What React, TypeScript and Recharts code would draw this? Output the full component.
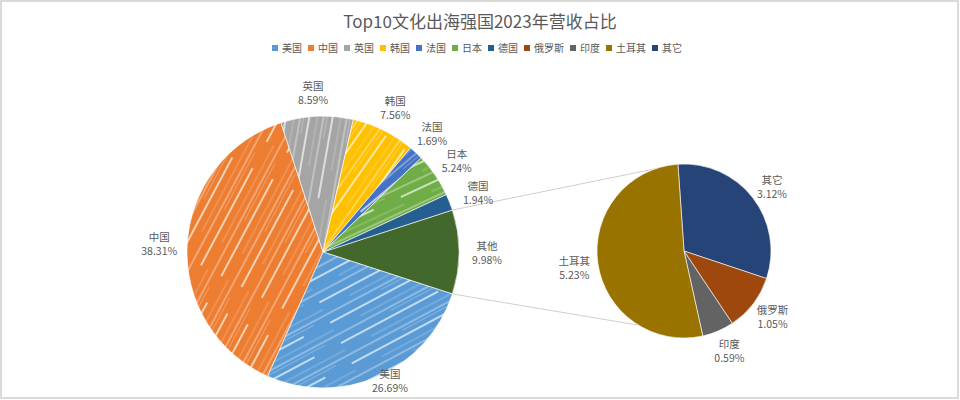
import React from 'react';
import { PieChart, Pie, Cell, Customized } from 'recharts';

// ---- data ----
const mainNames = ['其他', '美国', '中国', '英国', '韩国', '法国', '日本', '德国'];
const mainValues = [9.98, 26.69, 38.31, 8.59, 7.56, 1.69, 5.24, 1.94];
const subNames = ['其它', '俄罗斯', '印度', '土耳其'];
const subValues = [3.12, 1.05, 0.59, 5.23];
const legendNames = ['美国', '中国', '英国', '韩国', '法国', '日本', '德国', '俄罗斯', '印度', '土耳其', '其它'];
const title = 'Top10文化出海强国2023年营收占比';

// ---- styles ----
const COLORS: Record<string, string> = {
  美国: '#5B9BD5',
  中国: '#ED7D31',
  英国: '#A5A5A5',
  韩国: '#FFC000',
  法国: '#4472C4',
  日本: '#70AD47',
  德国: '#255E91',
  其他: '#43682B',
  俄罗斯: '#9E480E',
  印度: '#636363',
  土耳其: '#997300',
  其它: '#264478',
};
const HATCH: Record<string, number> = {
  美国: -28,
  中国: -62,
  英国: -80,
  韩国: -55,
  法国: -40,
  日本: -25,
};
const FONT = "'Noto Sans CJK SC', 'Noto Sans', sans-serif";
const TEXT = '#595959';

const MAIN = { cx: 323, cy: 252, r: 136 };
const SUB = { cx: 684, cy: 251, r: 87 };

const mainLabelOffset = [28, 9, 28, 24, 26, 25, 26, 30];
const mainLabelTweak = [0, 3.5, 0, 1, 0, 0.5, 0, -0.5];
const subLabelOffset = [22, 23, 22, 24];
const subLabelTweak = [-1.6, 1, 1.5, 0.5];

const mainData = mainNames.map((n, i) => ({ name: n, value: mainValues[i] }));
const subData = subNames.map((n, i) => ({ name: n, value: subValues[i] }));
const mainTotal = mainValues.reduce((a, b) => a + b, 0);
const subTotal = subValues.reduce((a, b) => a + b, 0);
const mainStart = ((mainValues[0] / mainTotal) * 360) / 2;
const subStart = 94;
const subBottom =
  subStart - ((subValues.slice(0, 3).reduce((a, b) => a + b, 0)) / subTotal) * 360;

const RAD = Math.PI / 180;

function makeLabel(offsets: number[], tweaks: number[]) {
  return (p: any) => {
    const { cx, cy, midAngle, outerRadius, index, value } = p;
    const name = p.payload?.name ?? p.name;
    const a = (midAngle + tweaks[index]) * RAD;
    const r = outerRadius + offsets[index];
    const x = cx + r * Math.cos(a);
    const y = cy - r * Math.sin(a);
    return (
      <g>
        <text x={x} y={y - 7} textAnchor="middle" dominantBaseline="central" fill={TEXT} fontSize={10.5} fontFamily={FONT}>
          {name}
        </text>
        <text x={x} y={y + 7} textAnchor="middle" dominantBaseline="central" fill={TEXT} fontSize={10.5} fontFamily={FONT}>
          {Number(value).toFixed(2)}%
        </text>
      </g>
    );
  };
}

const Connectors = () => {
  const p = (c: typeof MAIN, ang: number) => ({
    x: c.cx + c.r * Math.cos(ang * RAD),
    y: c.cy - c.r * Math.sin(ang * RAD),
  });
  const a1 = p(MAIN, mainStart);
  const a2 = p(MAIN, -mainStart);
  const b1 = p(SUB, subStart);
  const b2 = p(SUB, subBottom);
  return (
    <g>
      <line x1={a1.x} y1={a1.y} x2={b1.x} y2={b1.y} stroke="#cfcfcf" strokeWidth={1} />
      <line x1={a2.x} y1={a2.y} x2={b2.x} y2={b2.y} stroke="#cfcfcf" strokeWidth={1} />
    </g>
  );
};

const fillFor = (name: string) =>
  HATCH[name] !== undefined ? `url(#hatch-${mainNames.indexOf(name)})` : COLORS[name];

export default function App() {
  return (
    <div
      style={{
        position: 'absolute',
        left: 0,
        top: 0,
        width: 959,
        height: 399,
        boxSizing: 'border-box',
        border: '2px solid #dadada',
        background: '#fff',
        fontFamily: FONT,
      }}
    >
      <div
        style={{
          position: 'absolute',
          left: -2,
          top: 6,
          width: 960,
          height: 26,
          lineHeight: '26px',
          textAlign: 'center',
          fontSize: 17,
          color: TEXT,
        }}
      >
        {title}
      </div>
      <div
        style={{
          position: 'absolute',
          left: -2,
          top: 40,
          width: 960,
          height: 12,
          display: 'flex',
          justifyContent: 'center',
          alignItems: 'center',
          fontSize: 10,
          lineHeight: '12px',
          color: TEXT,
        }}
      >
        {legendNames.map((n) => (
          <div key={n} style={{ display: 'flex', alignItems: 'center', marginRight: 6 }}>
            <span style={{ width: 6, height: 6, background: COLORS[n], marginRight: 4, display: 'inline-block' }} />
            <span>{n}</span>
          </div>
        ))}
      </div>
      <div style={{ position: 'absolute', left: -2, top: -2 }}>
        <PieChart width={960} height={400} margin={{ top: 0, right: 0, bottom: 0, left: 0 }}>
          <defs>
            {mainNames.map((n, i) =>
              HATCH[n] !== undefined ? (
                <pattern
                  key={n}
                  id={`hatch-${i}`}
                  patternUnits="userSpaceOnUse"
                  width={140}
                  height={23}
                  patternTransform={`rotate(${HATCH[n]})`}
                >
                  <rect width={140} height={23} fill={COLORS[n]} />
                  <line x1={0} y1={3} x2={110} y2={3} stroke="#fff" strokeWidth={1.3} strokeOpacity={0.85} />
                  <line x1={30} y1={11} x2={140} y2={11} stroke="#fff" strokeWidth={0.6} strokeOpacity={0.5} />
                  <line x1={0} y1={17} x2={140} y2={17} stroke="#fff" strokeWidth={0.9} strokeOpacity={0.7} />
                  <line x1={60} y1={20.5} x2={125} y2={20.5} stroke="#fff" strokeWidth={0.5} strokeOpacity={0.5} />
                </pattern>
              ) : null
            )}
          </defs>
          <Customized component={Connectors} />
          <Pie
            data={mainData}
            dataKey="value"
            nameKey="name"
            cx={MAIN.cx}
            cy={MAIN.cy}
            outerRadius={MAIN.r}
            startAngle={mainStart}
            endAngle={mainStart - 360}
            isAnimationActive={false}
            label={makeLabel(mainLabelOffset, mainLabelTweak)}
            labelLine={false}
            stroke="#fff"
            strokeWidth={0.6}
          >
            {mainData.map((d) => (
              <Cell key={d.name} fill={fillFor(d.name)} />
            ))}
          </Pie>
          <Pie
            data={subData}
            dataKey="value"
            nameKey="name"
            cx={SUB.cx}
            cy={SUB.cy}
            outerRadius={SUB.r}
            startAngle={subStart}
            endAngle={subStart - 360}
            isAnimationActive={false}
            label={makeLabel(subLabelOffset, subLabelTweak)}
            labelLine={false}
            stroke="#fff"
            strokeWidth={0.6}
          >
            {subData.map((d) => (
              <Cell key={d.name} fill={COLORS[d.name]} />
            ))}
          </Pie>
        </PieChart>
      </div>
    </div>
  );
}
